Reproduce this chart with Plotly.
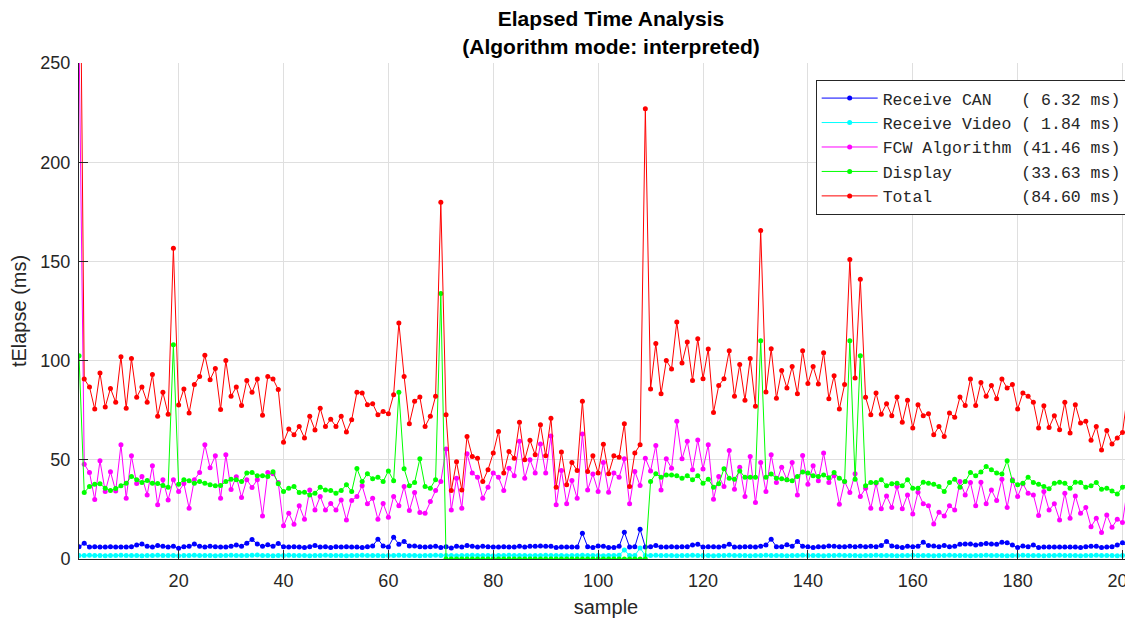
import plotly.graph_objects as go

sample = list(range(1, 203))

receive_can = [
    6.2, 7.9, 6.0, 6.2, 6.0, 6.0, 6.2, 6.0, 6.0, 6.0,
    6.2, 7.0, 7.6, 6.4, 6.0, 6.8, 6.4, 6.0, 6.4, 5.4,
    6.2, 6.4, 7.6, 6.4, 6.0, 6.4, 6.2, 6.0, 6.0, 6.4,
    7.0, 6.4, 8.0, 9.8, 7.6, 6.4, 7.2, 6.4, 7.8, 6.2,
    6.0, 6.2, 6.0, 5.8, 6.2, 6.8, 6.0, 6.2, 5.8, 6.2,
    6.0, 6.2, 6.0, 6.0, 5.8, 6.2, 6.6, 10.0, 6.6, 6.0,
    11.0, 7.4, 8.8, 6.6, 6.6, 6.2, 6.0, 6.2, 6.4, 5.8,
    6.2, 5.6, 6.4, 6.0, 6.8, 6.4, 6.0, 6.4, 6.2, 6.0,
    6.0, 6.2, 6.0, 6.0, 6.4, 6.0, 6.4, 6.4, 6.6, 6.4,
    6.4, 5.8, 6.0, 6.0, 6.0, 6.0, 13.0, 6.2, 5.8, 6.6,
    6.4, 5.8, 5.8, 6.4, 13.5, 6.0, 6.2, 15.0, 6.0, 6.2,
    6.8, 6.0, 6.0, 6.2, 6.0, 6.2, 6.2, 7.0, 7.4, 6.0,
    6.2, 6.2, 6.0, 6.4, 7.4, 6.0, 6.0, 6.2, 6.2, 6.0,
    6.4, 7.0, 10.0, 6.2, 6.2, 7.2, 6.4, 8.8, 6.4, 6.2,
    5.8, 6.2, 6.2, 6.6, 6.4, 6.2, 6.2, 6.4, 6.2, 6.4,
    6.2, 6.4, 6.2, 6.8, 8.8, 6.6, 6.2, 5.8, 6.4, 6.2,
    6.4, 8.4, 6.8, 6.6, 6.2, 6.8, 6.2, 6.4, 7.4, 7.6,
    7.6, 7.0, 7.4, 7.8, 7.6, 7.4, 8.4, 8.2, 7.0, 5.8,
    6.6, 6.2, 7.0, 5.8, 6.0, 6.0, 6.0, 6.0, 6.0, 6.0,
    6.0, 5.8, 6.2, 6.4, 6.4, 5.8, 6.0, 6.2, 7.0, 8.2,
    6.2, 6.2,
]

receive_video = [
    1.8, 1.8, 1.9, 1.8, 1.8, 1.7, 1.8, 1.8, 1.9, 1.8,
    1.8, 1.8, 1.7, 1.8, 1.8, 1.9, 1.8, 1.8, 1.8, 1.7,
    1.8, 1.8, 1.9, 1.8, 1.8, 1.8, 1.7, 1.8, 1.8, 1.9,
    1.8, 1.8, 1.8, 1.9, 2.0, 1.8, 1.8, 1.7, 1.8, 1.8,
    1.9, 1.8, 1.8, 1.8, 1.7, 1.8, 1.8, 1.9, 1.8, 1.8,
    1.8, 1.7, 1.8, 1.8, 1.9, 1.8, 1.8, 1.8, 1.7, 1.8,
    1.8, 1.9, 1.8, 1.8, 1.8, 1.7, 1.8, 1.8, 1.9, 1.8,
    1.8, 1.8, 1.7, 1.8, 1.8, 1.9, 1.8, 1.8, 1.8, 1.7,
    1.8, 1.8, 1.9, 1.8, 1.8, 1.8, 1.7, 1.8, 1.8, 1.9,
    1.8, 1.8, 1.8, 1.7, 1.8, 1.8, 1.9, 1.8, 1.8, 1.8,
    1.7, 1.8, 1.8, 1.9, 4.5, 1.8, 1.8, 5.5, 1.8, 1.8,
    1.9, 1.8, 1.8, 1.8, 1.7, 1.8, 1.8, 1.9, 1.8, 1.8,
    1.8, 1.7, 1.8, 1.8, 1.9, 1.8, 1.8, 1.8, 1.7, 1.8,
    1.8, 1.9, 1.8, 1.8, 1.8, 1.7, 1.8, 1.8, 1.9, 1.8,
    1.8, 1.8, 1.7, 1.8, 1.8, 1.9, 1.8, 1.8, 1.8, 1.7,
    1.8, 1.8, 1.9, 1.8, 1.8, 1.8, 1.7, 1.8, 1.8, 1.9,
    1.8, 1.8, 1.8, 1.7, 1.8, 1.8, 1.9, 1.8, 1.8, 1.8,
    1.7, 1.8, 1.8, 1.9, 1.8, 1.8, 1.8, 1.7, 1.8, 1.8,
    1.9, 1.8, 1.8, 1.8, 1.7, 1.8, 1.8, 1.9, 1.8, 1.8,
    1.8, 1.7, 1.8, 1.8, 1.9, 1.8, 1.8, 1.8, 1.7, 1.8,
    1.8, 1.8,
]

fcw_algorithm = [
    265.0, 47.8, 43.6, 30.0, 49.5, 34.0, 44.0, 34.3, 57.6, 30.6,
    52.0, 38.0, 41.6, 32.3, 47.0, 27.3, 40.0, 29.8, 40.0, 34.0,
    38.0, 25.6, 40.0, 43.6, 57.6, 46.0, 52.0, 30.6, 52.5, 35.0,
    41.5, 31.0, 40.0, 36.0, 40.0, 21.7, 43.6, 43.0, 38.5, 16.7,
    23.0, 17.5, 26.8, 20.0, 34.8, 24.7, 31.5, 24.7, 28.0, 24.7,
    29.8, 19.7, 29.5, 31.5, 36.9, 27.8, 30.6, 20.0, 28.0, 21.0,
    31.5, 26.8, 36.5, 24.4, 33.5, 23.4, 23.0, 29.0, 34.5, 39.0,
    55.4, 24.7, 40.7, 25.6, 53.0, 43.3, 41.2, 30.6, 36.2, 43.3,
    41.2, 34.5, 45.8, 42.0, 59.3, 40.7, 50.0, 43.3, 58.0, 43.3,
    62.0, 27.3, 44.6, 27.8, 39.6, 30.6, 63.0, 34.8, 42.8, 34.0,
    48.7, 33.7, 43.3, 41.2, 50.5, 27.8, 44.1, 37.0, 50.8, 44.4,
    57.2, 34.8, 50.5, 45.8, 69.4, 50.5, 59.3, 45.0, 60.0, 45.3,
    57.6, 30.1, 41.6, 36.5, 54.7, 35.2, 46.3, 31.5, 51.7, 28.5,
    48.7, 34.0, 52.5, 38.5, 46.3, 40.0, 48.7, 32.3, 52.2, 37.7,
    47.0, 39.4, 53.4, 38.5, 42.0, 27.6, 39.0, 33.5, 43.0, 31.5,
    35.7, 25.6, 38.2, 25.3, 31.8, 26.0, 36.5, 25.3, 32.3, 22.7,
    33.7, 27.8, 26.9, 17.7, 23.6, 21.7, 26.9, 24.7, 39.0, 32.3,
    38.5, 26.8, 38.7, 27.8, 34.8, 29.5, 40.2, 26.0, 40.0, 31.5,
    37.9, 33.2, 32.3, 21.9, 34.0, 24.7, 27.8, 19.7, 33.2, 20.5,
    31.8, 23.0, 25.9, 16.3, 20.5, 13.3, 22.2, 16.0, 20.0, 18.4,
    36.5, 32.0,
]

display = [
    102.5, 33.5, 36.5, 37.7, 37.9, 35.7, 34.5, 35.5, 36.9, 38.2,
    41.6, 40.0, 38.5, 39.6, 38.2, 38.0, 37.0, 36.2, 108.0, 37.7,
    40.0, 39.4, 38.2, 39.0, 38.2, 37.4, 36.9, 37.0, 39.0, 40.2,
    40.0, 39.0, 43.3, 43.6, 42.0, 42.0, 41.6, 44.0, 37.9, 34.0,
    35.7, 36.5, 33.5, 33.7, 32.3, 33.2, 36.2, 34.8, 34.5, 33.2,
    34.5, 37.4, 34.0, 45.6, 39.0, 43.0, 40.4, 41.2, 39.0, 44.4,
    39.4, 84.0, 45.5, 36.9, 38.5, 50.5, 36.5, 35.7, 40.0, 133.8,
    0.0, 0.0, 0.0, 0.0, 0.0, 0.0, 0.0, 0.0, 0.0, 0.0,
    0.0, 0.0, 0.0, 0.0, 0.0, 0.0, 0.0, 0.0, 0.0, 0.0,
    0.0, 0.0, 0.0, 0.0, 0.0, 0.0, 0.0, 0.0, 0.0, 0.0,
    0.0, 0.0, 0.0, 0.0, 0.0, 0.0, 0.0, 0.0, 0.0, 39.0,
    43.0, 41.2, 42.4, 42.4, 42.0, 40.7, 42.0, 40.0, 42.0, 38.2,
    40.2, 36.2, 37.9, 45.5, 40.7, 40.2, 44.4, 41.2, 41.2, 41.2,
    110.0, 41.2, 42.8, 40.7, 40.4, 40.0, 39.4, 41.6, 43.8, 43.3,
    42.0, 41.6, 42.4, 41.0, 43.6, 40.7, 39.0, 110.0, 40.2, 102.5,
    36.9, 38.5, 38.5, 40.0, 36.9, 37.9, 38.2, 36.9, 40.0, 35.7,
    35.7, 38.7, 38.2, 37.7, 36.5, 34.0, 38.5, 40.2, 36.2, 39.0,
    43.6, 42.0, 43.8, 46.6, 45.0, 43.3, 42.8, 49.5, 39.4, 37.4,
    38.2, 41.2, 38.5, 37.7, 36.5, 35.4, 38.2, 38.7, 38.2, 35.7,
    38.7, 38.5, 36.2, 36.9, 38.5, 35.2, 35.7, 34.3, 32.7, 36.2,
    38.2, 37.4,
]

total = [
    380.0, 90.7, 86.7, 75.6, 93.8, 76.6, 86.0, 79.0, 102.0, 76.0,
    101.0, 81.5, 86.7, 79.0, 93.0, 72.0, 84.0, 73.0, 156.6, 77.6,
    85.7, 73.6, 88.0, 92.0, 102.7, 90.4, 96.0, 75.4, 100.0, 82.0,
    86.7, 77.4, 90.0, 84.0, 90.7, 72.5, 92.0, 90.7, 85.4, 58.8,
    65.5, 62.6, 66.8, 61.0, 71.9, 65.0, 76.0, 66.8, 70.5, 66.8,
    71.9, 64.0, 70.2, 84.0, 83.7, 77.8, 78.3, 72.7, 74.4, 73.2,
    82.8, 119.0, 92.0, 68.2, 79.5, 81.6, 66.8, 71.9, 82.0, 179.8,
    72.7, 34.5, 49.0, 34.8, 61.8, 51.7, 50.8, 39.0, 45.0, 53.4,
    64.3, 43.3, 54.2, 50.8, 68.9, 50.0, 59.8, 52.5, 67.7, 52.0,
    71.0, 36.2, 53.9, 37.4, 48.7, 44.6, 79.5, 44.1, 52.0, 43.3,
    57.9, 43.0, 52.0, 51.3, 68.2, 36.5, 53.4, 57.6, 227.0, 85.7,
    108.6, 83.3, 100.0, 95.8, 119.5, 98.8, 109.4, 90.0, 111.0, 90.9,
    105.9, 73.9, 87.4, 90.9, 105.0, 82.0, 98.0, 80.0, 101.0, 77.0,
    165.6, 84.2, 106.0, 81.0, 95.0, 86.2, 97.0, 83.3, 105.0, 88.4,
    97.0, 88.2, 104.0, 80.8, 92.4, 75.6, 87.9, 151.0, 91.2, 141.0,
    81.5, 72.7, 83.7, 73.0, 78.3, 72.2, 81.6, 68.9, 80.0, 66.0,
    77.8, 72.2, 73.2, 62.6, 66.8, 61.8, 73.6, 71.4, 81.6, 77.4,
    90.7, 77.4, 89.0, 82.0, 87.4, 80.8, 90.7, 86.2, 87.9, 75.6,
    83.7, 82.0, 79.0, 66.0, 77.3, 66.3, 72.2, 65.2, 79.0, 63.5,
    77.8, 68.5, 69.4, 59.8, 66.8, 55.0, 64.8, 58.0, 61.0, 63.8,
    83.7, 77.0,
]

nb = "\u00a0"
series = [
    ("Receive CAN" + nb * 3 + "(" + nb + "6.32 ms)", receive_can, "#0000ff"),
    ("Receive Video" + nb + "(" + nb + "1.84 ms)", receive_video, "#00ffff"),
    ("FCW Algorithm" + nb + "(41.46 ms)", fcw_algorithm, "#ff00ff"),
    ("Display" + nb * 7 + "(33.63 ms)", display, "#00ff00"),
    ("Total" + nb * 9 + "(84.60 ms)", total, "#ff0000"),
]

fig = go.Figure()
for name, vals, col in series:
    fig.add_trace(go.Scatter(
        x=sample, y=vals, name=name, mode="lines+markers",
        line=dict(color=col, width=1),
        marker=dict(color=col, size=5),
    ))

axis_style = dict(
    showgrid=True, gridcolor="#dfdfdf", gridwidth=1,
    showline=True, linecolor="#262626", linewidth=1,
    ticks="inside", ticklen=9, tickcolor="#262626",
    tickfont=dict(size=18, color="#262626"),
    zeroline=False, automargin=False,
)

# the page body adds an 8px offset, so the figure is 8px smaller than the window
fig.update_layout(
    width=1125, height=610,
    margin=dict(l=71, r=0, t=55, b=59),
    plot_bgcolor="white", paper_bgcolor="white",
    font=dict(family="Liberation Sans, Arial, sans-serif", color="#262626"),
    title=dict(
        text="<b>Elapsed Time Analysis<br>(Algorithm mode: interpreted)</b>",
        xref="container", x=0.536, xanchor="center",
        yref="container", y=0.970, yanchor="middle",
        font=dict(size=21, color="black"),
        automargin=False,
    ),
    xaxis=dict(
        range=[1, 202], tickvals=list(range(20, 201, 20)),
        title=dict(text="sample", font=dict(size=20), standoff=10),
        ticklabeloverflow="allow", ticklabelstandoff=5,
        **axis_style,
    ),
    yaxis=dict(
        range=[0, 250], tickvals=list(range(0, 251, 50)),
        title=dict(text="tElapse (ms)", font=dict(size=20), standoff=8),
        ticklabelstandoff=4,
        **axis_style,
    ),
    legend=dict(
        x=0.994, xanchor="right", y=0.966, yanchor="top",
        bgcolor="white", bordercolor="#262626", borderwidth=1,
        font=dict(family="Liberation Mono, Courier New, monospace", size=16.5, color="#262626"),
        tracegroupgap=0, itemwidth=56,
    ),
    showlegend=True,
)

fig.write_html("out.html")
